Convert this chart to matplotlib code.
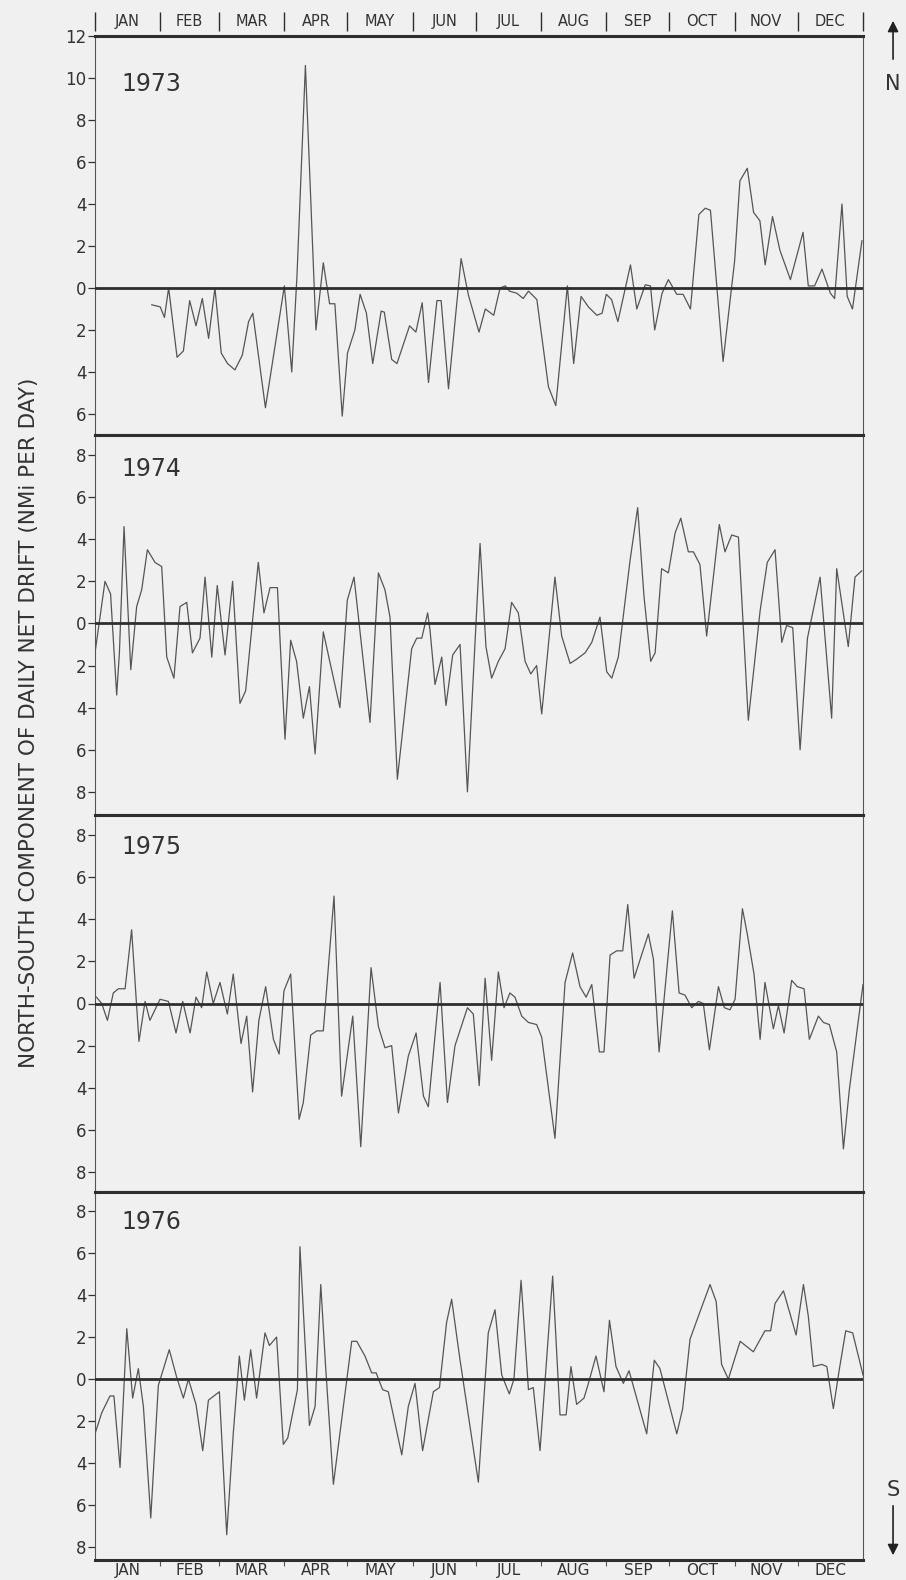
import matplotlib
matplotlib.use("Agg")
import matplotlib.pyplot as plt
import matplotlib.transforms as mtransforms
from matplotlib.ticker import FuncFormatter

# month boundaries (day of year) and names
months = ["JAN", "FEB", "MAR", "APR", "MAY", "JUN",
          "JUL", "AUG", "SEP", "OCT", "NOV", "DEC"]
month_starts = [0, 31, 59, 90, 120, 151, 181, 212, 243, 273, 304, 334, 365]

years = ["1973", "1974", "1975", "1976"]

# north-south drift, nmi/day (positive = north)
day_1973 = [27, 31, 33, 35, 39, 42, 45, 48, 51, 54, 57, 60, 63, 66.5, 70, 73, 75, 81,
            90, 93.5, 96, 100, 105, 108.5, 111.5, 114, 117.5, 120, 123.5, 126, 129,
            132, 136, 137.5, 141, 143.5, 149.5, 152.5, 155.5, 158.5, 162.5, 164.5, 168,
            174, 177.5, 182.5, 185.5, 189.5, 192.5, 195, 197, 200.5, 203.5, 206, 210,
            215.5, 219, 224.5, 227.5, 231, 234.5, 238.5, 241, 243, 245.5, 248.5, 254.5,
            257.5, 261.5, 264, 266, 269.5, 272.5, 276.5, 279.5, 283, 287, 290, 292.5,
            298.5, 304, 306.5, 310, 313, 316, 318.5, 322, 325.5, 330.5, 336.5, 339,
            342, 345.5, 349.5, 351.5, 355, 357.5, 360, 364.5]
drift_1973 = [-0.8, -0.9, -1.4, 0.0, -3.3, -3.0, -0.6, -1.8, -0.5, -2.4, 0.0, -3.1, -3.6,
              -3.9, -3.2, -1.6, -1.2, -5.7, 0.1, -4.0, 0.6, 10.6, -2.0, 1.2, -0.75, -0.75,
              -6.1, -3.1, -2.0, -0.3, -1.2, -3.6, -1.1, -1.15, -3.4, -3.6, -1.8, -2.1,
              -0.7, -4.5, -0.6, -0.6, -4.8, 1.4, -0.35, -2.1, -1.0, -1.3, 0.0, 0.1,
              -0.15, -0.25, -0.5, -0.15, -0.55, -4.7, -5.6, 0.1, -3.6, -0.4, -0.9, -1.3,
              -1.2, -0.3, -0.55, -1.6, 1.1, -1.0, 0.15, 0.1, -2.0, -0.25, 0.4, -0.3,
              -0.3, -1.0, 3.5, 3.8, 3.7, -3.5, 1.3, 5.1, 5.7, 3.6, 3.2, 1.1, 3.4, 1.8,
              0.4, 2.65, 0.1, 0.1, 0.9, -0.25, -0.5, 4.0, -0.4, -1.0, 2.25]

day_1974 = [0, 4.75, 7.4, 10.3, 11.6, 13.8, 17.0, 19.8, 22.2, 24.9, 28.5, 31.7, 34.1,
            37.5, 40.4, 43.6, 46.3, 49.9, 52.3, 55.5, 58.1, 61.8, 65.4, 68.9, 71.6,
            77.6, 80.3, 83.2, 86.7, 90.3, 93.0, 95.8, 99.0, 101.9, 104.6, 108.5, 116.4,
            119.9, 123.1, 130.7, 134.7, 137.8, 140.2, 143.7, 150.5, 152.9, 155.3, 158.1,
            159.2, 161.6, 164.8, 166.8, 170.0, 173.5, 177.0, 183.0, 185.8, 188.5, 191.7,
            194.9, 198.0, 201.2, 204.4, 207.1, 209.9, 212.3, 218.6, 221.8, 225.8, 228.9,
            232.9, 236.1, 240.0, 243.2, 245.6, 248.7, 254.3, 257.9, 260.9, 264.1, 266.2,
            269.3, 272.5, 275.7, 278.4, 282.0, 284.4, 287.5, 290.7, 296.7, 299.4, 302.6,
            305.8, 310.5, 316.1, 319.5, 323.2, 326.4, 328.7, 331.6, 335.1, 338.6, 344.6,
            350.1, 352.5, 358.0, 361.2, 364.4]
drift_1974 = [-1.4, 2.0, 1.4, -3.4, -1.4, 4.6, -2.2, 0.8, 1.6, 3.5, 2.9, 2.7, -1.6,
              -2.6, 0.8, 1.0, -1.4, -0.7, 2.2, -1.6, 1.8, -1.5, 2.0, -3.8, -3.2,
              2.9, 0.5, 1.7, 1.7, -5.5, -0.8, -1.8, -4.5, -3.0, -6.2, -0.4, -4.0,
              1.1, 2.2, -4.7, 2.4, 1.6, 0.3, -7.4, -1.2, -0.7, -0.7, 0.5,
              -0.3, -2.9, -1.6, -3.9, -1.5, -1.0, -8.0, 3.8, -1.1, -2.6, -1.8,
              -1.2, 1.0, 0.5, -1.8, -2.4, -2.0, -4.3, 2.2, -0.6, -1.9, -1.7,
              -1.4, -0.9, 0.3, -2.3, -2.6, -1.6, 3.0, 5.5, 1.3, -1.8, -1.4,
              2.6, 2.4, 4.3, 5.0, 3.4, 3.4, 2.8, -0.6, 4.7, 3.4, 4.2,
              4.1, -4.6, 0.6, 2.9, 3.5, -0.9, -0.1, -0.2, -6.0, -0.7, 2.2,
              -4.5, 2.6, -1.1, 2.2, 2.5]

day_1975 = [0.7, 3.2, 5.9, 8.7, 11.1, 14.3, 17.4, 20.9, 23.8, 26.1, 28.5, 30.9, 34.9,
            38.5, 41.7, 45.2, 48.0, 50.7, 53.1, 56.2, 59.4, 62.9, 65.7, 69.4, 72.1,
            74.9, 77.9, 81.1, 84.8, 87.5, 89.8, 93.0, 97.0, 99.0, 102.5, 105.4, 108.5,
            113.6, 117.2, 122.5, 126.3, 131.2, 134.7, 137.8, 141.0, 144.2, 148.9, 152.6,
            156.1, 158.4, 164.0, 167.5, 171.1, 177.0, 179.8, 182.6, 185.4, 188.5, 191.7,
            194.4, 197.2, 199.6, 202.8, 206.0, 209.9, 212.3, 218.6, 223.4, 227.0, 230.5,
            233.4, 236.1, 239.7, 241.9, 244.8, 247.9, 250.8, 253.2, 256.2, 263.0, 265.4,
            268.1, 274.4, 277.6, 280.4, 283.6, 286.8, 289.1, 292.0, 296.3, 299.1, 301.8,
            304.2, 307.7, 310.0, 313.2, 316.1, 318.4, 322.4, 324.8, 327.5, 331.1, 333.8,
            337.0, 339.5, 343.8, 346.2, 349.0, 352.5, 355.7, 358.5, 365.0]
drift_1975 = [0.3, 0.0, -0.8, 0.5, 0.7, 0.7, 3.5, -1.8, 0.1, -0.8, -0.3, 0.2, 0.1,
              -1.4, 0.1, -1.4, 0.3, -0.2, 1.5, 0.0, 1.0, -0.5, 1.4, -1.9, -0.6,
              -4.2, -0.8, 0.8, -1.7, -2.4, 0.6, 1.4, -5.5, -4.7, -1.5, -1.3, -1.3,
              5.1, -4.4, -0.6, -6.8, 1.7, -1.1, -2.1, -2.0, -5.2, -2.5, -1.4,
              -4.4, -4.9, 1.0, -4.7, -2.0, -0.2, -0.5, -3.9, 1.2, -2.7, 1.5,
              -0.2, 0.5, 0.3, -0.6, -0.9, -1.0, -1.6, -6.4, 1.0, 2.4, 0.8,
              0.3, 0.9, -2.3, -2.3, 2.3, 2.5, 2.5, 4.7, 1.2, 3.3, 2.1,
              -2.3, 4.4, 0.5, 0.4, -0.2, 0.1, 0.0, -2.2, 0.8, -0.2, -0.3,
              0.2, 4.5, 3.3, 1.4, -1.7, 1.0, -1.2, -0.1, -1.4, 1.1, 0.8,
              0.7, -1.7, -0.6, -0.9, -1.0, -2.3, -6.9, -4.1, 0.9]

day_1976 = [0, 3.2, 7.1, 9.0, 11.9, 15.1, 17.9, 20.6, 23.0, 26.5, 30.1, 35.3, 38.8,
            42.0, 44.4, 48.0, 51.2, 53.9, 59.1, 62.6, 65.7, 68.6, 71.0, 74.0, 76.8,
            80.8, 82.9, 86.3, 89.5, 91.6, 96.2, 97.4, 101.9, 104.6, 107.3, 109.6, 113.3,
            122.0, 124.4, 128.3, 131.5, 133.6, 136.7, 139.4, 145.8, 148.9, 152.1, 155.7,
            160.8, 163.7, 167.1, 169.5, 173.5, 182.2, 186.9, 190.1, 193.3, 196.9, 199.1,
            202.5, 206.0, 208.3, 211.5, 217.5, 221.0, 223.9, 226.2, 228.9, 232.4, 234.5,
            238.1, 241.9, 244.5, 247.6, 251.1, 253.8, 262.2, 265.8, 268.5, 276.5, 279.3,
            282.8, 287.5, 292.3, 295.2, 297.8, 301.0, 306.6, 312.9, 318.4, 321.1, 323.2,
            327.2, 333.2, 336.7, 339.0, 341.4, 345.4, 347.8, 350.9, 353.8, 356.8, 360.1,
            365.0]
drift_1976 = [-2.6, -1.6, -0.8, -0.8, -4.2, 2.4, -0.9, 0.5, -1.3, -6.6, -0.3, 1.4, 0.1,
              -0.9, 0.0, -1.2, -3.4, -1.0, -0.6, -7.4, -2.6, 1.1, -1.0, 1.4, -0.9,
              2.2, 1.6, 2.0, -3.1, -2.8, -0.5, 6.3, -2.2, -1.3, 4.5, 0.6, -5.0,
              1.8, 1.8, 1.1, 0.3, 0.3, -0.5, -0.6, -3.6, -1.3, -0.2, -3.4,
              -0.6, -0.4, 2.7, 3.8, 0.9, -4.9, 2.2, 3.3, 0.2, -0.7, 0.0,
              4.7, -0.5, -0.4, -3.4, 4.9, -1.7, -1.7, 0.6, -1.2, -0.9, -0.2,
              1.1, -0.6, 2.8, 0.6, -0.2, 0.4, -2.6, 0.9, 0.5, -2.6, -1.4,
              1.9, 3.2, 4.5, 3.7, 0.7, 0.0, 1.8, 1.3, 2.3, 2.3, 3.6,
              4.2, 2.1, 4.5, 3.0, 0.6, 0.7, 0.6, -1.4, 0.5, 2.3, 2.2,
              0.2]

days = [day_1973, day_1974, day_1975, day_1976]
drifts = [drift_1973, drift_1974, drift_1975, drift_1976]

ylims = [(-7.0, 12.0), (-9.1, 8.95), (-8.95, 8.95), (-8.6, 8.9)]
yticks = [list(range(-6, 13, 2)), list(range(-8, 9, 2)),
          list(range(-8, 9, 2)), list(range(-8, 9, 2))]

# panel edges in pixels from the top of the figure
W, H = 906, 1580
panel_edges = [(36, 435), (435, 815), (815, 1192), (1192, 1560)]
left_px, right_px = 95, 863
year_label_y = [0.88, 0.91, 0.915, 0.918]

bg = "#f0f0f0"
ink = "#2e2e2e"
plt.rcParams["font.family"] = ["DejaVu Sans"]

fig = plt.figure(figsize=(W / 100, H / 100), dpi=100, facecolor=bg)

axes = []
for i in range(4):
    top, bot = panel_edges[i]
    ax = fig.add_axes([left_px / W, 1 - bot / H, (right_px - left_px) / W, (bot - top) / H])
    ax.set_facecolor(bg)
    ax.plot(days[i], drifts[i], color="#555555", lw=0.9)
    ax.axhline(0, color=ink, lw=2.0, zorder=3)
    ax.set_xlim(0, 365)
    ax.set_ylim(*ylims[i])

    for side in ("top", "bottom"):
        ax.spines[side].set_linewidth(2.2)
        ax.spines[side].set_color(ink)
    for side in ("left", "right"):
        ax.spines[side].set_linewidth(0.8)
        ax.spines[side].set_color("#555555")

    ax.set_yticks(yticks[i])
    ax.yaxis.set_major_formatter(FuncFormatter(lambda v, p: f"{abs(int(round(v)))}"))
    ax.tick_params(axis="y", direction="out", length=5, width=0.9, pad=1,
                   labelsize=12, colors="#333333")
    ax.set_xticks([])

    ax.text(0.035, year_label_y[i], years[i], transform=ax.transAxes,
            fontsize=17, color="#333333", va="center", ha="left")
    axes.append(ax)

# month strip above the first panel
ax = axes[0]
trans = mtransforms.blended_transform_factory(ax.transData, ax.transAxes)
ax.vlines(month_starts, 1.0125, 1.06, transform=trans, color=ink, lw=1.0, clip_on=False)
for m in range(12):
    mid = (month_starts[m] + month_starts[m + 1]) / 2
    ax.text(mid, 1.037, months[m], transform=trans, ha="center", va="center",
            fontsize=10.5, color="#333333")

# month labels below the last panel
ax = axes[3]
ax.set_xticks(month_starts[1:-1])
ax.set_xticklabels([])
ax.tick_params(axis="x", direction="out", length=4, width=0.8, colors="#555555")
trans = mtransforms.blended_transform_factory(ax.transData, ax.transAxes)
for m in range(12):
    mid = (month_starts[m] + month_starts[m + 1]) / 2
    ax.text(mid, -0.028, months[m], transform=trans, ha="center", va="center",
            fontsize=11, color="#333333")

fig.text(0.032, 0.5424, "NORTH-SOUTH COMPONENT OF DAILY NET DRIFT (NMi PER DAY)",
         rotation=90, ha="center", va="center", fontsize=15.5, color="#333333")

# north / south direction arrows
ax0 = axes[0]
ax0.annotate("", xy=(0.9857, 0.9886), xytext=(0.9857, 0.9608), xycoords="figure fraction",
             textcoords="figure fraction", annotation_clip=False,
             arrowprops=dict(arrowstyle="-|>", color="#222222", lw=1.2, mutation_scale=16))
fig.text(0.9857, 0.9468, "N", ha="center", va="center", fontsize=15, color="#333333")
ax0.annotate("", xy=(0.9857, 0.0139), xytext=(0.9857, 0.0487), xycoords="figure fraction",
             textcoords="figure fraction", annotation_clip=False,
             arrowprops=dict(arrowstyle="-|>", color="#222222", lw=1.2, mutation_scale=16))
fig.text(0.9857, 0.0570, "S", ha="center", va="center", fontsize=15, color="#333333")

fig.savefig("out.png", dpi=100, facecolor=bg)
plt.close(fig)
